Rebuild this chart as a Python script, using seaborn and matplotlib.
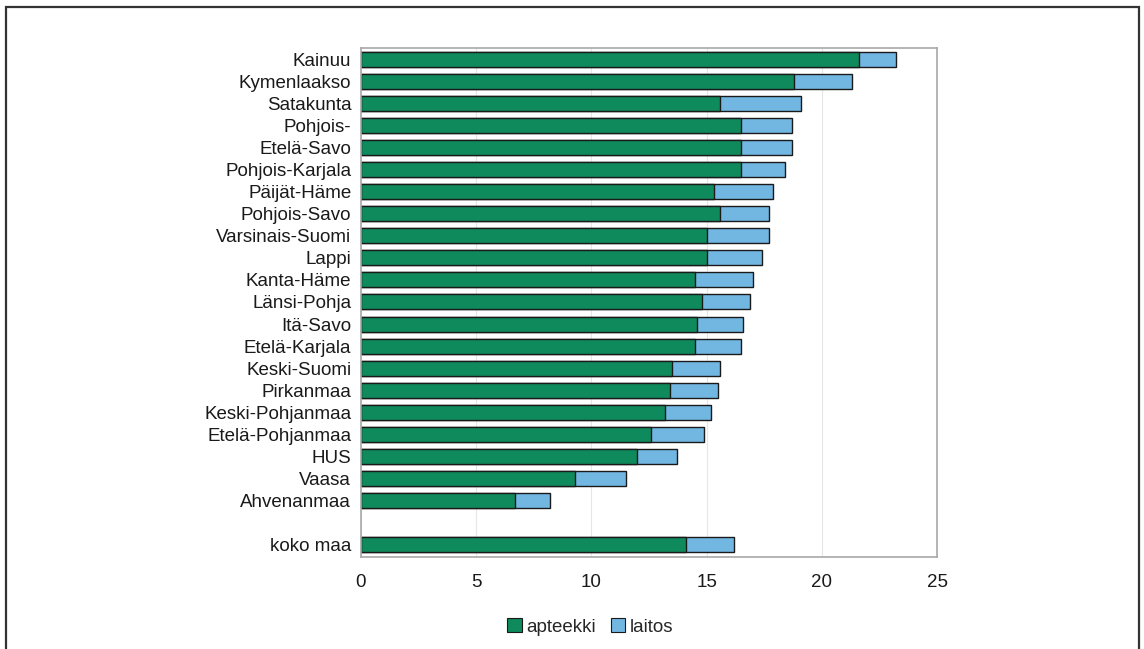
import matplotlib
matplotlib.use("Agg")
import matplotlib.pyplot as plt
from matplotlib.patches import Patch, Rectangle
import seaborn as sns
import pandas as pd

# Regions, top to bottom; "koko maa" (whole country) is drawn after a blank row
regions = [
    "Kainuu", "Kymenlaakso", "Satakunta", "Pohjois-", "Etelä-Savo",
    "Pohjois-Karjala", "Päijät-Häme", "Pohjois-Savo", "Varsinais-Suomi",
    "Lappi", "Kanta-Häme", "Länsi-Pohja", "Itä-Savo", "Etelä-Karjala",
    "Keski-Suomi", "Pirkanmaa", "Keski-Pohjanmaa", "Etelä-Pohjanmaa",
    "HUS", "Vaasa", "Ahvenanmaa", "koko maa",
]
apteekki = [21.6, 18.8, 15.6, 16.5, 16.5, 16.5, 15.3, 15.6, 15.0,
            15.0, 14.5, 14.8, 14.6, 14.5, 13.5, 13.4, 13.2, 12.6,
            12.0, 9.3, 6.7, 14.1]
laitos = [1.6, 2.5, 3.5, 2.2, 2.2, 1.9, 2.6, 2.1, 2.7,
          2.4, 2.5, 2.1, 2.0, 2.0, 2.1, 2.1, 2.0, 2.3,
          1.7, 2.2, 1.5, 2.1]
x_ticks = [0, 5, 10, 15, 20, 25]

df = pd.DataFrame({"alue": regions, "apteekki": apteekki, "laitos": laitos})
df["yhteensa"] = df["apteekki"] + df["laitos"]
order = regions[:-1] + [""] + regions[-1:]

green = "#0e8a5c"
blue = "#72b6e2"
fs = 13.5

sns.set_style("white")
plt.rcParams["font.family"] = ["Liberation Sans", "DejaVu Sans"]

fig = plt.figure(figsize=(11.44, 6.49), dpi=100)
ax = fig.add_axes([361 / 1144, 1 - 557 / 649, 576 / 1144, 509 / 649])

# stacked horizontal bars: total first, then the apteekki part on top
sns.barplot(data=df, x="yhteensa", y="alue", order=order, color=blue,
            width=0.68, edgecolor="#1a1a1a", linewidth=1.0, saturation=1,
            orient="h", ax=ax)
sns.barplot(data=df, x="apteekki", y="alue", order=order, color=green,
            width=0.68, edgecolor="#1a1a1a", linewidth=1.0, saturation=1,
            orient="h", ax=ax)

ax.set_xlim(0, 25)
ax.set_ylim(len(order) - 0.45, -0.5)
ax.set_xticks(x_ticks)
ax.set_xticklabels([str(t) for t in x_ticks])
ax.set_xlabel("")
ax.set_ylabel("")
ax.tick_params(axis="y", length=0, labelsize=fs, pad=7, colors="#1a1a1a")
ax.tick_params(axis="x", length=4, width=0.8, color="#888888",
               labelsize=fs, pad=8, colors="#1a1a1a", direction="out")
ax.xaxis.grid(True, color="#e6e6e6", linewidth=0.8)
ax.set_axisbelow(True)
for side in ["top", "right", "left", "bottom"]:
    ax.spines[side].set_visible(True)
    ax.spines[side].set_color("#a8a8a8")
    ax.spines[side].set_linewidth(1.2)

handles = [Patch(facecolor=green, edgecolor="#1a1a1a", linewidth=0.8, label="apteekki"),
           Patch(facecolor=blue, edgecolor="#1a1a1a", linewidth=0.8, label="laitos")]
fig.legend(handles=handles, loc="center", bbox_to_anchor=(0.516, 1 - 627 / 649),
           ncol=2, frameon=False, fontsize=fs, handlelength=0.75,
           handleheight=0.75, handletextpad=0.25, columnspacing=0.8)

# outer frame around the figure
fig.patches.append(Rectangle((6 / 1144, -0.05), 1133 / 1144, 1.05 - 7 / 649,
                             transform=fig.transFigure, fill=False,
                             edgecolor="#333333", linewidth=1.6, clip_on=False))

fig.savefig("out.png", dpi=100, facecolor="white")
